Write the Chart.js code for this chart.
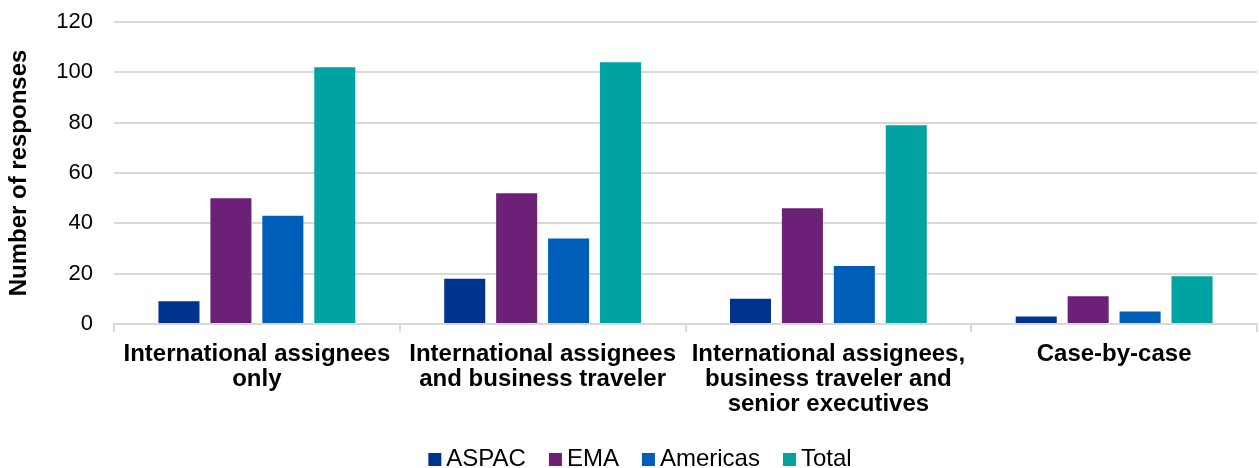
<!DOCTYPE html>
<html>
<head>
<meta charset="utf-8">
<script src="https://cdn.jsdelivr.net/npm/chart.js@4/dist/chart.umd.min.js"></script>
<style>
  html, body { margin: 0; padding: 0; background: #ffffff; }
  #wrap { width: 1259px; height: 468px; }
</style>
</head>
<body>
<div id="wrap"><canvas id="chart" width="1259" height="468"></canvas></div>
<script>
// Survey responses by coverage group and region
const categories = [
  ["International assignees", "only"],
  ["International assignees", "and business traveler"],
  ["International assignees,", "business traveler and", "senior executives"],
  ["Case-by-case"]
];
const seriesNames = ["ASPAC", "EMA", "Americas", "Total"];
const aspacValues = [9, 18, 10, 3];
const emaValues = [50, 52, 46, 11];
const americasValues = [43, 34, 23, 5];
const totalValues = [102, 104, 79, 19];
const yTicks = [0, 20, 40, 60, 80, 100, 120];

const seriesColors = ["#00338D", "#6D2077", "#005EB8", "#00A3A1"];
const FONT = "'Liberation Sans', Arial, sans-serif";

// Legend drawn as a row of square swatches centred under the chart
const bottomLegend = {
  id: 'bottomLegend',
  afterDraw(chart) {
    const ctx = chart.ctx;
    const box = 13, gapText = 5, gapItem = 23;
    ctx.save();
    ctx.font = "24px " + FONT;
    const items = chart.data.datasets.map(ds => ({
      text: ds.label, color: ds.backgroundColor, w: ctx.measureText(ds.label).width
    }));
    const total = items.reduce((s, it) => s + box + gapText + it.w, 0) + gapItem * (items.length - 1);
    let x = 640 - total / 2;
    const baseline = 466;
    ctx.textBaseline = 'alphabetic';
    ctx.textAlign = 'left';
    items.forEach(it => {
      ctx.fillStyle = it.color;
      ctx.fillRect(x, baseline - 13, box, box);
      x += box + gapText;
      ctx.fillStyle = '#000000';
      ctx.fillText(it.text, x, baseline);
      x += it.w + gapItem;
    });
    ctx.restore();
  }
};

const valueSets = [aspacValues, emaValues, americasValues, totalValues];

new Chart(document.getElementById('chart'), {
  type: 'bar',
  data: {
    labels: categories,
    datasets: seriesNames.map((name, i) => ({
      label: name,
      data: valueSets[i],
      backgroundColor: seriesColors[i],
      borderWidth: 0,
      categoryPercentage: 0.727,
      barPercentage: 0.79
    }))
  },
  options: {
    responsive: false,
    animation: false,
    devicePixelRatio: 1,
    layout: { padding: { top: 22, right: 2, bottom: 34, left: 0 } },
    plugins: {
      legend: { display: false },
      tooltip: { enabled: false }
    },
    scales: {
      x: {
        grid: {
          display: true,
          offset: true,
          drawOnChartArea: false,
          drawTicks: true,
          tickLength: 8,
          color: '#d9d9d9',
          lineWidth: 2
        },
        border: { display: true, color: '#d9d9d9', width: 2 },
        ticks: {
          color: '#000000',
          maxRotation: 0,
          minRotation: 0,
          autoSkip: false,
          padding: 10,
          font: { family: FONT, size: 24, weight: 'bold', lineHeight: 1.042 }
        },
        afterFit(scale) { scale.height = 110; }
      },
      y: {
        min: 0,
        max: 120,
        afterBuildTicks(scale) { scale.ticks = yTicks.map(v => ({ value: v })); },
        grid: {
          color: '#d9d9d9',
          lineWidth: 2,
          drawTicks: false
        },
        border: { display: false },
        ticks: {
          color: '#000000',
          padding: 21,
          font: { family: FONT, size: 22 }
        },
        title: {
          display: true,
          text: 'Number of responses',
          color: '#000000',
          padding: { top: 5, bottom: 0 },
          font: { family: FONT, size: 24, weight: 'bold' }
        },
        afterFit(scale) {
          scale.width = 114;
          scale.paddingTop = 12;
          scale.paddingBottom = 12;
        }
      }
    }
  },
  plugins: [bottomLegend]
});
</script>
</body>
</html>
